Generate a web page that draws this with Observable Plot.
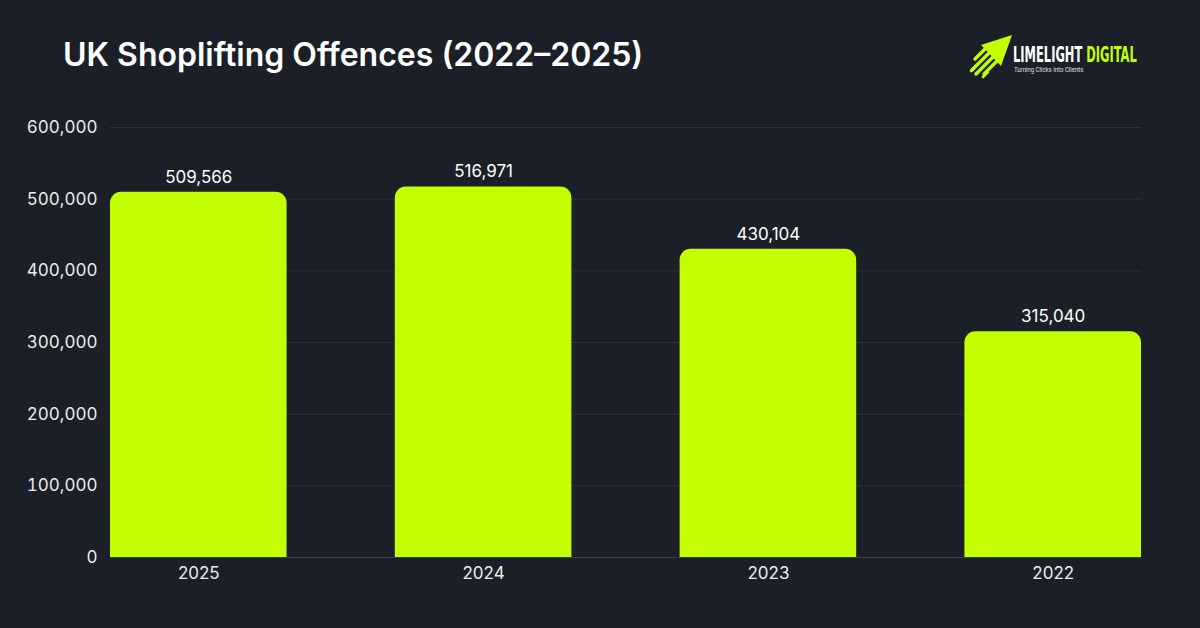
<!DOCTYPE html>
<html>
<head>
<meta charset="utf-8">
<script src="https://cdn.jsdelivr.net/npm/d3@7"></script>
<script src="https://cdn.jsdelivr.net/npm/@observablehq/plot@0.6"></script>
<style>
  html, body { margin: 0; padding: 0; background: #1b1f27; }
  #page { position: relative; width: 1200px; height: 628px; background: #1b1f27; overflow: hidden; font-family: Inter, "Noto Sans", sans-serif; }
  #title { position: absolute; left: 63px; top: 35px; color: #ffffff; font-size: 32px; font-weight: 600; white-space: nowrap; }
  #logo { position: absolute; left: 968px; top: 30px; }
  #chart { position: absolute; left: 0; top: 100px; }
</style>
</head>
<body>
<div id="page">
  <div id="title">UK Shoplifting Offences (2022–2025)</div>
  <svg id="logo" width="200" height="52" viewBox="0 0 200 52">
    <g fill="#c2ff00" stroke="#c2ff00" stroke-linecap="round">
      <polygon points="44,5 13,15 33,36" stroke="none"/>
      <line x1="17" y1="19" x2="7" y2="29" stroke-width="3.4"/>
      <line x1="21" y1="23" x2="4" y2="40" stroke-width="3.4"/>
      <line x1="25" y1="27" x2="8" y2="44" stroke-width="3.4"/>
      <line x1="29" y1="31" x2="16" y2="44" stroke-width="3.4"/>
      <line x1="11" y1="33" x2="3" y2="41" stroke-width="2.6"/>
      <line x1="20" y1="42" x2="15" y2="47" stroke-width="2.6"/>
    </g>
    <text id="brand" data-x="45" data-w="124" y="32.5" font-family="'Liberation Sans Narrow','DejaVu Sans Condensed',Roboto,sans-serif" font-weight="700" font-size="22" fill="#ffffff">LIMELIGHT<tspan fill="#c2ff00"> DIGITAL</tspan></text>
    <text id="tagline" data-x="46" data-w="70" y="42.5" font-family="Roboto, sans-serif" font-size="6.5" fill="#e0e0e0">Turning Clicks Into Clients</text>
  </svg>
  <div id="chart"></div>
</div>
<script>
// Squeeze the logo wordmark horizontally to its fixed width
for (const el of document.querySelectorAll("#logo text")) {
  const x = +el.dataset.x, w = +el.dataset.w;
  const natural = el.getBBox().width;
  el.setAttribute("x", 0);
  el.setAttribute("transform", `translate(${x},0) scale(${w / natural},1)`);
}

// Recorded shoplifting offences by year
const years = ["2025", "2024", "2023", "2022"];
const offences = [509566, 516971, 430104, 315040];
const yTicks = [0, 100000, 200000, 300000, 400000, 500000, 600000];

const data = years.map((year, i) => ({year, value: offences[i]}));
const fmt = d3.format(",");

const chart = Plot.plot({
  width: 1200,
  height: 528,
  marginTop: 27,
  marginBottom: 71,
  marginLeft: 110,
  marginRight: 59,
  style: {background: "transparent", color: "#ececec", fontFamily: "Inter, 'Noto Sans', sans-serif", fontSize: "17px"},
  x: {domain: years, paddingInner: 0.38, paddingOuter: 0, round: false, label: null},
  y: {domain: [0, 600000], label: null},
  marks: [
    Plot.gridY(yTicks, {stroke: "#2c313a", strokeOpacity: 1, strokeWidth: 1}),
    // bars with rounded top corners only
    Plot.barY(data, {x: "year", y: "value", fill: "#c2ff00", ry1: 11}),
    Plot.ruleY([0], {stroke: "#3a3f48", strokeWidth: 1}),
    Plot.text(data, {x: "year", y: "value", text: d => fmt(d.value), dy: -15, fill: "#ffffff", fontSize: 17}),
    Plot.axisY(yTicks, {tickSize: 0, tickPadding: 13, tickFormat: fmt, fill: "#ececec", fontSize: 17}),
    Plot.axisX({tickSize: 0, tickPadding: 9, fill: "#ececec", fontSize: 17})
  ]
});
document.getElementById("chart").appendChild(chart);
</script>
</body>
</html>
